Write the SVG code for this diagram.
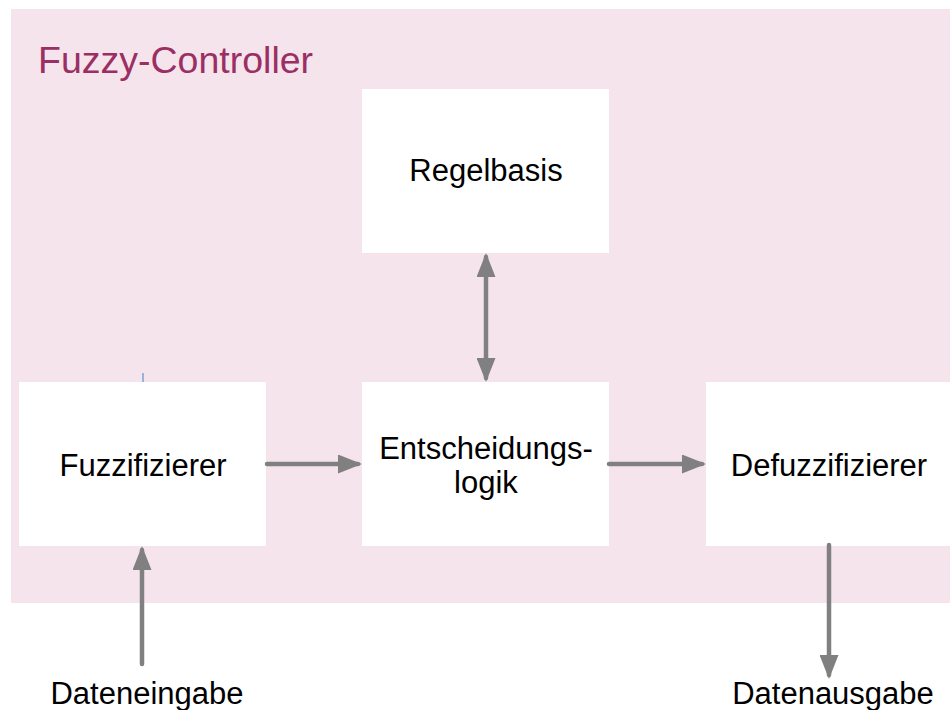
<svg xmlns="http://www.w3.org/2000/svg" width="950" height="710" viewBox="0 0 950 710">
  <style>
    .box { fill: #ffffff; }
    .lbl { font-family: "Liberation Sans", Arial, sans-serif; font-size: 31px; fill: #000000; text-anchor: middle; }
    .edge { stroke: #808080; stroke-width: 4.5; stroke-linecap: round; fill: none; }
  </style>
  <defs>
    <!-- filled triangle, tip sits 4px past the end of the shaft -->
    <marker id="head" viewBox="0 0 24 19" refX="20" refY="9.5" markerUnits="userSpaceOnUse" markerWidth="24" markerHeight="19" orient="auto-start-reverse">
      <path d="M0,0 L24,9.5 L0,19 Z" fill="#808080"/>
    </marker>
  </defs>

  <!-- controller frame -->
  <g id="controller">
    <rect x="11" y="9" width="939" height="594" fill="#f6e4ec"/>
    <text x="38" y="73" font-family="Liberation Sans, Arial, sans-serif" font-size="37.5" fill="#9b2f63">Fuzzy-Controller</text>
  </g>

  <g id="regelbasis">
    <rect class="box" x="362" y="89" width="247" height="164"/>
    <text class="lbl" x="486" y="181">Regelbasis</text>
  </g>

  <g id="fuzzifizierer">
    <rect class="box" x="19" y="382" width="247" height="164"/>
    <text class="lbl" x="143" y="476">Fuzzifizierer</text>
  </g>

  <g id="entscheidungslogik">
    <rect class="box" x="362" y="382" width="247" height="164"/>
    <text class="lbl" x="486" y="459">Entscheidungs-</text>
    <text class="lbl" x="486" y="493">logik</text>
  </g>

  <g id="defuzzifizierer">
    <rect class="box" x="706" y="382" width="250" height="164"/>
    <text class="lbl" x="829" y="476">Defuzzifizierer</text>
  </g>

  <g id="dateneingabe">
    <text class="lbl" x="147" y="704">Dateneingabe</text>
  </g>

  <g id="datenausgabe">
    <text class="lbl" x="833" y="704">Datenausgabe</text>
  </g>

  <!-- small tick above the fuzzifier -->
  <line x1="143" y1="373" x2="143" y2="382" stroke="#7f9fdc" stroke-width="1.5"/>

  <g id="connectors">
    <line class="edge" x1="267" y1="464" x2="358" y2="464" marker-end="url(#head)"/>
    <line class="edge" x1="609" y1="464" x2="702" y2="464" marker-end="url(#head)"/>
    <line class="edge" x1="486" y1="257" x2="486" y2="378" marker-start="url(#head)" marker-end="url(#head)"/>
    <line class="edge" x1="142" y1="664" x2="142" y2="550" marker-end="url(#head)"/>
    <line class="edge" x1="829" y1="545" x2="829" y2="675" marker-end="url(#head)"/>
  </g>
</svg>
